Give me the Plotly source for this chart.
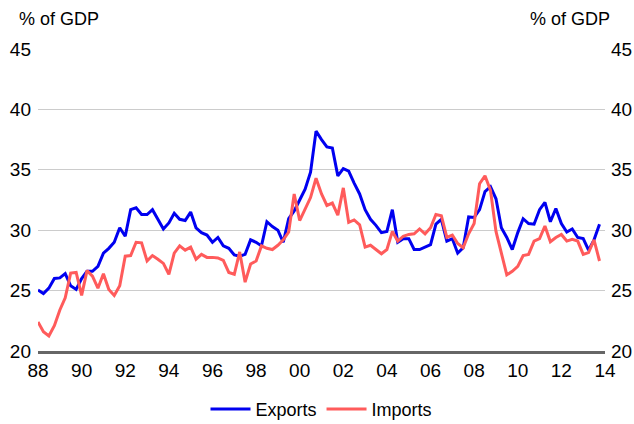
import pandas as pd
import plotly.graph_objects as go

# Quarterly observations, 1988Q1 .. 2013Q4 (% of GDP)
quarters = pd.date_range("1988-01-01", "2013-10-01", freq="QS")

exports = [
    25.05, 24.75, 25.2, 26.0, 26.05, 26.4, 25.4, 25.1,      # 88-89
    26.0, 26.6, 26.6, 27.0, 28.1, 28.5, 29.0, 30.2,         # 90-91
    29.5, 31.7, 31.85, 31.3, 31.3, 31.7, 30.9, 30.1,        # 92-93
    30.6, 31.4, 30.9, 30.8, 31.5, 30.2, 29.8, 29.6,         # 94-95
    29.0, 29.4, 28.7, 28.5, 27.95, 27.85, 28.0, 29.2,       # 96-97
    29.0, 28.7, 30.7, 30.3, 30.0, 29.0, 30.95, 31.6,        # 98-99
    32.5, 33.4, 34.8, 38.2, 37.5, 36.9, 36.8, 34.5,         # 00-01
    35.1, 34.9, 33.9, 33.0, 31.7, 30.9, 30.4, 29.8,         # 02-03
    29.9, 31.7, 29.0, 29.3, 29.3, 28.4, 28.4, 28.6,         # 04-05
    28.8, 30.5, 30.9, 29.1, 29.3, 28.1, 28.55, 31.1,        # 06-07
    31.05, 31.7, 33.2, 33.6, 32.6, 30.2, 29.4, 28.4,        # 08-09
    29.8, 30.95, 30.55, 30.5, 31.7, 32.3, 30.7, 31.8,       # 10-11
    30.55, 29.85, 30.1, 29.4, 29.3, 28.35, 29.2, 30.5,      # 12-13
]

imports = [
    22.4, 21.6, 21.25, 22.1, 23.4, 24.4, 26.45, 26.5,       # 88-89
    24.6, 26.65, 26.2, 25.2, 26.4, 25.1, 24.6, 25.4,        # 90-91
    27.85, 27.9, 29.0, 28.95, 27.45, 27.9, 27.6, 27.25,     # 92-93
    26.35, 28.1, 28.7, 28.35, 28.6, 27.6, 28.0, 27.75,      # 94-95
    27.75, 27.7, 27.5, 26.5, 26.35, 28.2, 25.7, 27.2,       # 96-97
    27.45, 28.7, 28.5, 28.4, 28.75, 29.2, 29.85, 33.0,      # 98-99
    30.8, 31.7, 32.7, 34.3, 33.0, 32.05, 32.25, 31.25,      # 00-01
    33.5, 30.65, 30.85, 30.45, 28.6, 28.75, 28.4, 28.05,    # 02-03
    28.4, 29.9, 29.1, 29.5, 29.65, 29.7, 30.1, 29.7,        # 04-05
    30.2, 31.3, 31.2, 29.4, 29.6, 28.9, 28.55, 29.7,        # 06-07
    30.55, 33.85, 34.5, 33.3, 29.9, 28.0, 26.3, 26.6,       # 08-09
    27.0, 27.9, 28.0, 29.1, 29.3, 30.35, 29.05, 29.4,       # 10-11
    29.65, 29.1, 29.25, 29.1, 28.0, 28.15, 29.2, 27.45,     # 12-13
]

tick_years = list(range(1988, 2015, 2))
tick_labels = ["88", "90", "92", "94", "96", "98", "00", "02", "04", "06", "08", "10", "12", "14"]
y_ticks = [20, 25, 30, 35, 40, 45]

FONT = "Liberation Sans, Arial, sans-serif"

fig = go.Figure()
fig.add_trace(go.Scatter(x=quarters, y=exports, mode="lines", name="Exports",
                         line=dict(color="#0000F0", width=3)))
fig.add_trace(go.Scatter(x=quarters, y=imports, mode="lines", name="Imports",
                         line=dict(color="#FF5B5B", width=3)))
fig.add_trace(go.Scatter(x=[quarters[0]], y=[None], yaxis="y2", showlegend=False,
                         hoverinfo="skip"))

tickvals_x = [pd.Timestamp(f"{y}-01-01") for y in tick_years]

fig.update_layout(
    width=634, height=424,
    margin=dict(l=38, r=29, t=49, b=73, autoexpand=False),
    paper_bgcolor="white", plot_bgcolor="white",
    font=dict(family=FONT, size=19, color="#000000"),
    showlegend=True,
    legend=dict(orientation="h", x=0.5, xanchor="center", y=-0.132, yanchor="top",
                font=dict(size=18), itemwidth=40, tracegroupgap=0,
                bgcolor="rgba(0,0,0,0)"),
    xaxis=dict(
        type="date", automargin=False,
        range=[pd.Timestamp("1988-01-01"), pd.Timestamp("2014-01-01")],
        tickmode="array", tickvals=tickvals_x, ticktext=tick_labels,
        showgrid=False, zeroline=False,
        showline=True, linecolor="#666666", linewidth=2.5,
        ticks="", tickfont=dict(size=19), ticklabelstandoff=0,
    ),
    yaxis=dict(
        range=[20, 45], tickmode="array", tickvals=y_ticks, automargin=False,
        showgrid=True, gridcolor="#CCCCCC", gridwidth=1.2,
        zeroline=False, showline=False, ticks="",
        tickfont=dict(size=19), ticklabelstandoff=6,
    ),
    yaxis2=dict(
        range=[20, 45], tickmode="array", tickvals=y_ticks, automargin=False,
        overlaying="y", side="right", showgrid=False,
        zeroline=False, showline=False, ticks="",
        tickfont=dict(size=19), ticklabelstandoff=5,
    ),
    annotations=[
        dict(text="% of GDP", xref="paper", yref="paper", x=-0.037, y=1.0,
             xanchor="left", yanchor="bottom", yshift=18, showarrow=False,
             font=dict(size=18)),
        dict(text="% of GDP", xref="paper", yref="paper", x=1.012, y=1.0,
             xanchor="right", yanchor="bottom", yshift=18, showarrow=False,
             font=dict(size=18)),
    ],
)

fig.write_html("out.html", config={"displayModeBar": False},
               post_script="document.body.style.margin='0';")
